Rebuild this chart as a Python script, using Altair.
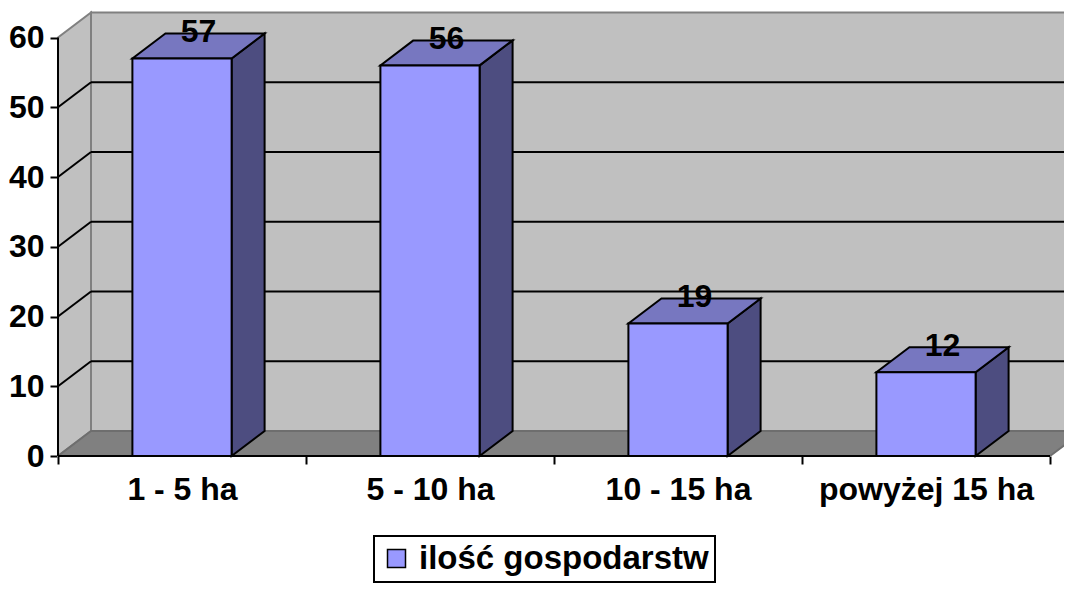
import altair as alt
import pandas as pd

# ---- data ----
categories = ["1 - 5 ha", "5 - 10 ha", "10 - 15 ha", "powyżej 15 ha"]
values = [57, 56, 19, 12]
series_name = "ilość gospodarstw"
y_ticks = [0, 10, 20, 30, 40, 50, 60]

# ---- geometry / style constants ----
PLOT_W = 1006
PLOT_H = 448
CAT_PX = 248.0
Y_PX = 6.975
DEPTH_X_PX = 33.0
DEPTH_Y_PX = 25.0
BAR_W = 0.40
FONT = "Liberation Sans"

XMAX = PLOT_W / CAT_PX
YMAX = PLOT_H / Y_PX
DX = DEPTH_X_PX / CAT_PX
DY = DEPTH_Y_PX / Y_PX
YTOP = y_ticks[-1]
NCAT = len(categories)

FRONT = "#9999FF"
TOP = "#7777C0"
SIDE = "#4D4D80"
WALL = "#C0C0C0"
FLOOR = "#808080"
EDGE = "#808080"

label_js = "[" + ",".join("'" + c + "'" for c in categories) + ",''][datum.value]"

xscale = alt.Scale(domain=[0, XMAX], nice=False, zero=False)
yscale = alt.Scale(domain=[0, YMAX], nice=False, zero=False)

xaxis = alt.Axis(
    values=list(range(NCAT + 1)), labelExpr=label_js, labelOffset=CAT_PX / 2,
    tickSize=8, tickWidth=2, tickColor="black", domain=False, grid=False,
    labelFont=FONT, labelFontSize=32, labelFontWeight="bold", labelColor="black",
    labelPadding=10, labelFlush=False, labelOverlap=False, labelLimit=500, title=None,
)
yaxis = alt.Axis(
    values=y_ticks, tickSize=8, tickWidth=2, tickColor="black", domain=False,
    grid=False, labelFont=FONT, labelFontSize=32, labelFontWeight="bold",
    labelColor="black", labelPadding=6, title=None,
)


def X(f):
    return alt.X(f, type="quantitative", scale=xscale, axis=xaxis, title=None)


def Y(f):
    return alt.Y(f, type="quantitative", scale=yscale, axis=yaxis, title=None)


# ---- walls ----
back_df = pd.DataFrame({"x": [DX], "x2": [XMAX + 1], "y": [DY], "y2": [YTOP + DY]})
back = alt.Chart(back_df).mark_rect(fill=WALL, stroke=EDGE, strokeWidth=2, clip=True).encode(
    x=X("x"), x2="x2", y=Y("y"), y2="y2")

left_df = pd.DataFrame({"x": [0, DX], "y": [0, DY], "y2": [YTOP, YTOP + DY]})
left = alt.Chart(left_df).mark_area(fill=WALL, stroke=EDGE, strokeWidth=2).encode(
    x=X("x"), y=Y("y"), y2="y2")

floor_df = pd.DataFrame({"y": [0, DY], "x": [0, DX], "x2": [NCAT, NCAT + DX]})
floor = alt.Chart(floor_df).mark_area(orient="horizontal", fill=FLOOR, stroke="#6E6E6E",
                                      strokeWidth=2, clip=True).encode(
    y=Y("y"), x=X("x"), x2="x2")

grid_vals = y_ticks[1:-1]
back_grid_df = pd.DataFrame({"y": [v + DY for v in grid_vals], "x": DX, "x2": XMAX + 1})
back_grid = alt.Chart(back_grid_df).mark_rule(color="black", strokeWidth=2, clip=True).encode(
    x=X("x"), x2="x2", y=Y("y"))

left_grid_df = pd.DataFrame({"x": 0.0, "x2": DX, "y": grid_vals, "y2": [v + DY for v in grid_vals]})
left_grid = alt.Chart(left_grid_df).mark_rule(color="black", strokeWidth=2).encode(
    x=X("x"), x2="x2", y=Y("y"), y2="y2")

yline_df = pd.DataFrame({"x": [0.0], "y": [0.0], "y2": [YTOP]})
yline = alt.Chart(yline_df).mark_rule(color="black", strokeWidth=2).encode(
    x=X("x"), y=Y("y"), y2="y2")

xline_df = pd.DataFrame({"x": [0.0], "x2": [float(NCAT)], "y": [0.0]})
xline = alt.Chart(xline_df).mark_rule(color="black", strokeWidth=2).encode(
    x=X("x"), x2="x2", y=Y("y"))

# ---- bars ----
rows_front, rows_side, rows_top, rows_lab = [], [], [], []
for i, (c, v) in enumerate(zip(categories, values)):
    cx = i + 0.5
    xl, xr = cx - BAR_W / 2, cx + BAR_W / 2
    rows_front.append({"cat": c, "x": xl, "x2": xr, "y": 0, "y2": v, "series": series_name})
    rows_side.append({"cat": c, "x": xr, "y": 0, "y2": v})
    rows_side.append({"cat": c, "x": xr + DX, "y": DY, "y2": v + DY})
    rows_top.append({"cat": c, "y": v, "x": xl, "x2": xr})
    rows_top.append({"cat": c, "y": v + DY, "x": xl + DX, "x2": xr + DX})
    rows_lab.append({"cat": c, "x": cx + DX / 2, "y": v + DY / 2, "v": v})

side = alt.Chart(pd.DataFrame(rows_side)).mark_area(
    fill=SIDE, stroke="black", strokeWidth=2, strokeJoin="miter").encode(
    x=X("x"), y=Y("y"), y2="y2", detail="cat:N")

top = alt.Chart(pd.DataFrame(rows_top)).mark_area(
    orient="horizontal", fill=TOP, stroke="black", strokeWidth=2, strokeJoin="miter").encode(
    y=Y("y"), x=X("x"), x2="x2", detail="cat:N")

front = alt.Chart(pd.DataFrame(rows_front)).mark_rect(stroke="black", strokeWidth=2).encode(
    x=X("x"), x2="x2", y=Y("y"), y2="y2",
    color=alt.Color("series:N", scale=alt.Scale(range=[FRONT]),
                    legend=alt.Legend(title=None, orient="none", legendX=316, legendY=528)),
)

labels = alt.Chart(pd.DataFrame(rows_lab)).mark_text(
    font=FONT, fontSize=32, fontWeight="bold", color="black", baseline="middle",
    align="center", dy=-14).encode(
    x=X("x"), y=Y("y"), text="v:Q")

chart = alt.layer(
    back, left, floor, back_grid, left_grid, yline, xline, side, top, front, labels
).properties(
    width=PLOT_W, height=PLOT_H,
    autosize=alt.AutoSizeParams(type="none"),
    padding={"left": 50, "top": 0, "right": 0, "bottom": 128},
).configure_view(strokeWidth=0).configure_legend(
    strokeColor="black", strokeWidth=2, padding=6,
    labelFont=FONT, labelFontSize=33, labelFontWeight="bold", labelColor="black",
    labelLimit=600, symbolType="square", symbolSize=324, symbolStrokeColor="black",
    symbolStrokeWidth=1.5, symbolFillColor=FRONT, symbolOpacity=1, labelOffset=6,
)

chart.save("out.html", embed_options={"renderer": "svg", "actions": False})
